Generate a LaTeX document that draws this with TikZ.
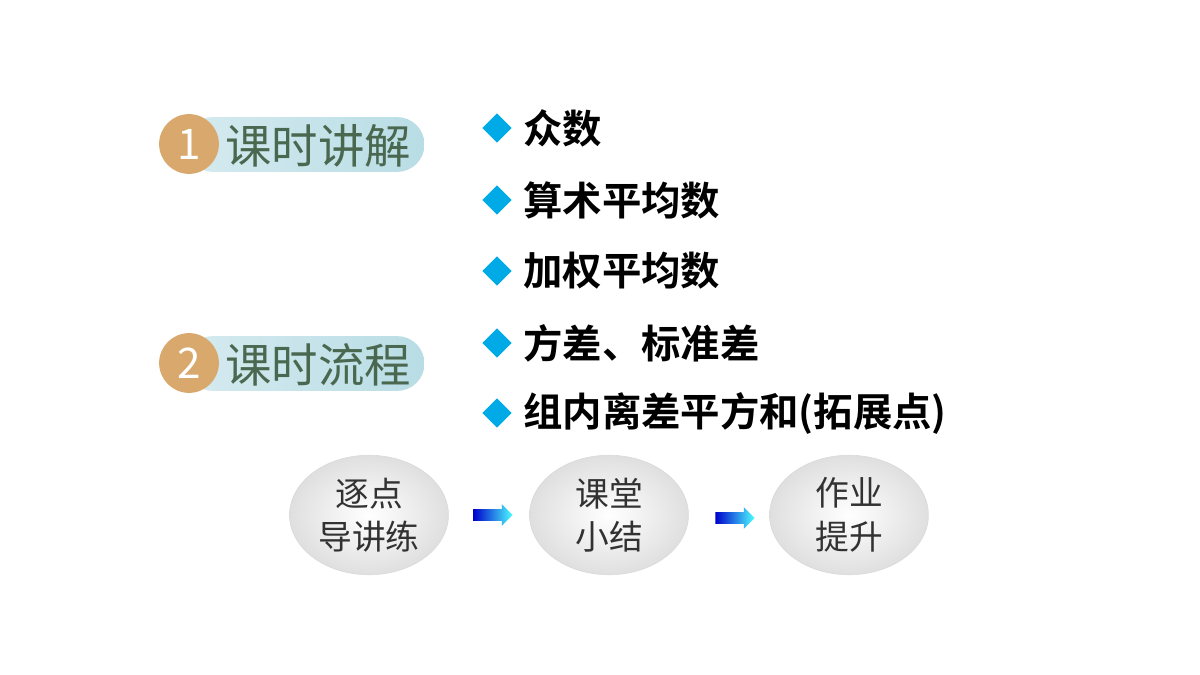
\documentclass[tikz,border=0pt]{standalone}
\usepackage{fontspec}
\newfontfamily\cjk{Noto Sans CJK SC}
\newfontfamily\cjkb{Noto Sans CJK SC Bold}
\usetikzlibrary{shapes.arrows,shapes.geometric,positioning}
\definecolor{PillBlue}{RGB}{185,221,229}
\definecolor{BadgeOrange}{RGB}{217,168,108}
\definecolor{TitleGreen}{RGB}{74,104,80}
\definecolor{BulletBlue}{RGB}{0,170,230}
\definecolor{StepGray}{RGB}{50,50,50}
\tikzset{
	pill/.style={rounded corners=19.5pt, left color=PillBlue!60, right color=PillBlue, minimum width=170pt, minimum height=39pt, inner sep=0pt},
	badge/.style={circle, fill=BadgeOrange, minimum size=42.5pt, inner sep=0pt, text=white, font=\cjk\fontsize{30}{30}\selectfont},
	title/.style={text=TitleGreen, font=\cjk\fontsize{33}{33}\selectfont, anchor=west, inner sep=0pt},
	bullet/.style={diamond, fill=BulletBlue, minimum size=21pt, inner sep=0pt},
	item/.style={anchor=west, inner sep=0pt, font=\cjkb\fontsize{28}{28}\selectfont},
	stepnode/.style={ellipse, minimum width=113pt, minimum height=85pt, inner sep=0pt, draw=gray!30, inner color=white, outer color=gray!25, text=StepGray, align=center, font=\cjk\fontsize{24}{31}\selectfont},
	flowarrow/.style={single arrow, minimum height=28pt, minimum width=15pt, single arrow head extend=3.5pt, inner sep=4pt, left color=blue!80!black, right color=cyan!70}
}
\begin{document}
\begin{tikzpicture}[x=0.025cm,y=-0.025cm]
	\useasboundingbox[fill=white] (0,0) rectangle (1200,675);
%
	% section headings
	\node[pill] (p1) at (305,144.5) {};
	\node[badge] (b1) at (189,144) {1};
	\node[title] (t1) at (225,146) {课时讲解};
	\node[pill] (p2) at (305,363.5) {};
	\node[badge] (b2) at (189,363) {2};
	\node[title] (t2) at (225,365) {课时流程};
%
	% topics
	\foreach \y/\txt [count=\i] in {128/众数, 200/算术平均数, 271/加权平均数, 343/方差、标准差, 413/组内离差平方和(拓展点)}{
		\node[bullet] (d\i) at (497,\y) {};
		\node[item] (i\i) at (523,\y) {\txt};
	}
%
	% flow
	\node[stepnode] (s1) at (369,515) {逐点\\导讲练};
	\node[stepnode] (s2) at (609,515) {课堂\\小结};
	\node[stepnode] (s3) at (849,515) {作业\\提升};
	\node[flowarrow] (a1) at (490,515) {};
	\node[flowarrow] (a2) at (732,518) {};
\end{tikzpicture}
\end{document}
